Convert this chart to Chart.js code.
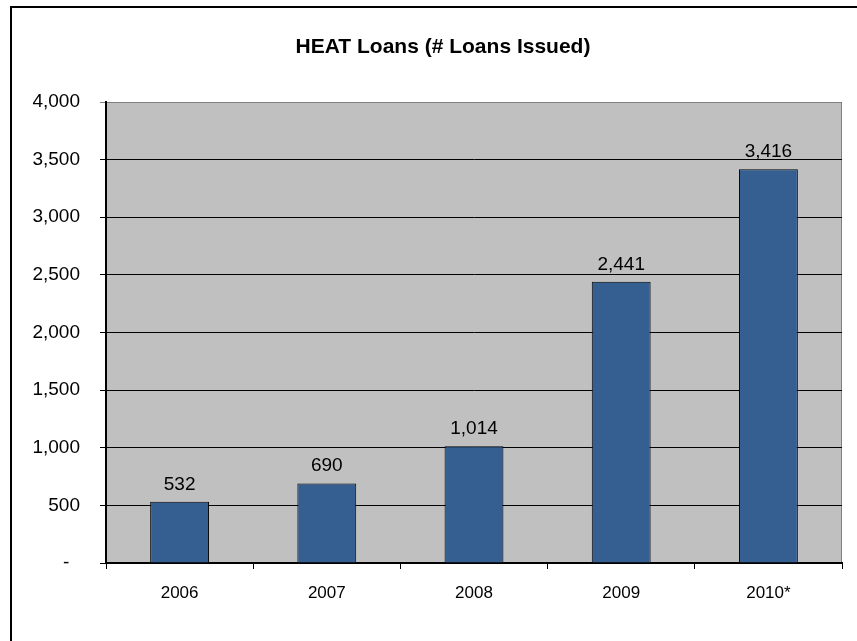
<!DOCTYPE html>
<html>
<head>
<meta charset="utf-8">
<script src="https://cdn.jsdelivr.net/npm/chart.js@4"></script>
<style>
  html, body { margin: 0; padding: 0; background: #fff; }
  #wrap { width: 857px; height: 641px; position: relative; }
</style>
</head>
<body>
<div id="wrap"><canvas id="heatChart"></canvas></div>
<script>
const years = ['2006', '2007', '2008', '2009', '2010*'];
const loansIssued = [532, 690, 1014, 2441, 3416];
const yTicks = [0, 500, 1000, 1500, 2000, 2500, 3000, 3500, 4000];
const chartTitle = 'HEAT Loans (# Loans Issued)';

const FONT = 'Arial, "Liberation Sans", sans-serif';

// gray plot area, outer frame, plot border and title
const frame = {
  id: 'frame',
  beforeDraw(chart) {
    const { ctx, chartArea: a } = chart;
    ctx.save();
    ctx.fillStyle = '#c0c0c0';
    ctx.fillRect(a.left, a.top, a.right - a.left, a.bottom - a.top);
    ctx.strokeStyle = '#000';
    ctx.lineWidth = 2;
    ctx.beginPath();
    ctx.moveTo(11, chart.height);
    ctx.lineTo(11, 7);
    ctx.lineTo(chart.width, 7);
    ctx.stroke();
    ctx.strokeStyle = '#808080';
    ctx.lineWidth = 1;
    ctx.beginPath();
    ctx.moveTo(a.right - 0.5, a.top);
    ctx.lineTo(a.right - 0.5, a.bottom);
    ctx.stroke();
    // title sits a bit left of the plot centre, like the original
    ctx.font = 'bold 21px ' + FONT;
    ctx.fillStyle = '#000';
    ctx.textAlign = 'center';
    ctx.textBaseline = 'middle';
    ctx.fillText(chartTitle, (a.right + 44) / 2, 47);
    ctx.restore();
  }
};

// value labels above the bars
const barLabels = {
  id: 'barLabels',
  afterDatasetsDraw(chart) {
    const { ctx } = chart;
    const meta = chart.getDatasetMeta(0);
    ctx.save();
    ctx.font = '19px ' + FONT;
    ctx.fillStyle = '#000';
    ctx.textAlign = 'center';
    ctx.textBaseline = 'alphabetic';
    meta.data.forEach((bar, i) => {
      ctx.fillText(loansIssued[i].toLocaleString('en-US'), bar.x, bar.y - 12);
    });
    ctx.restore();
  }
};

new Chart(document.getElementById('heatChart'), {
  type: 'bar',
  data: {
    labels: years,
    datasets: [{
      data: loansIssued,
      backgroundColor: '#365f91',
      borderColor: '#000',
      borderWidth: 1,
      barPercentage: 0.4,
      categoryPercentage: 1
    }]
  },
  options: {
    responsive: true,
    maintainAspectRatio: false,
    animation: false,
    layout: { padding: { left: 0, right: 15, top: 102, bottom: 0 } },
    plugins: {
      legend: { display: false },
      tooltip: { enabled: false },
      title: { display: false }
    },
    scales: {
      x: {
        afterFit(scale) { scale.height = 78; },
        grid: {
          offset: true,
          drawOnChartArea: false,
          color: '#000',
          tickLength: 6
        },
        border: { color: '#000', width: 2 },
        ticks: {
          color: '#000',
          padding: 14,
          font: { family: FONT, size: 17 }
        }
      },
      y: {
        min: 0,
        max: 4000,
        afterFit(scale) { scale.width = 106; },
        afterBuildTicks(scale) { scale.ticks = yTicks.map(v => ({ value: v })); },
        grid: {
          color: ctx => (ctx.tick && ctx.tick.value === 4000 ? '#808080' : '#000'),
          lineWidth: 1,
          tickLength: 6
        },
        border: { color: '#000', width: 2 },
        ticks: {
          color: '#000',
          padding: 20,
          font: { family: FONT, size: 19 },
          callback: v => (v === 0 ? '-  ' : v.toLocaleString('en-US'))
        }
      }
    }
  },
  plugins: [frame, barLabels]
});
</script>
</body>
</html>
